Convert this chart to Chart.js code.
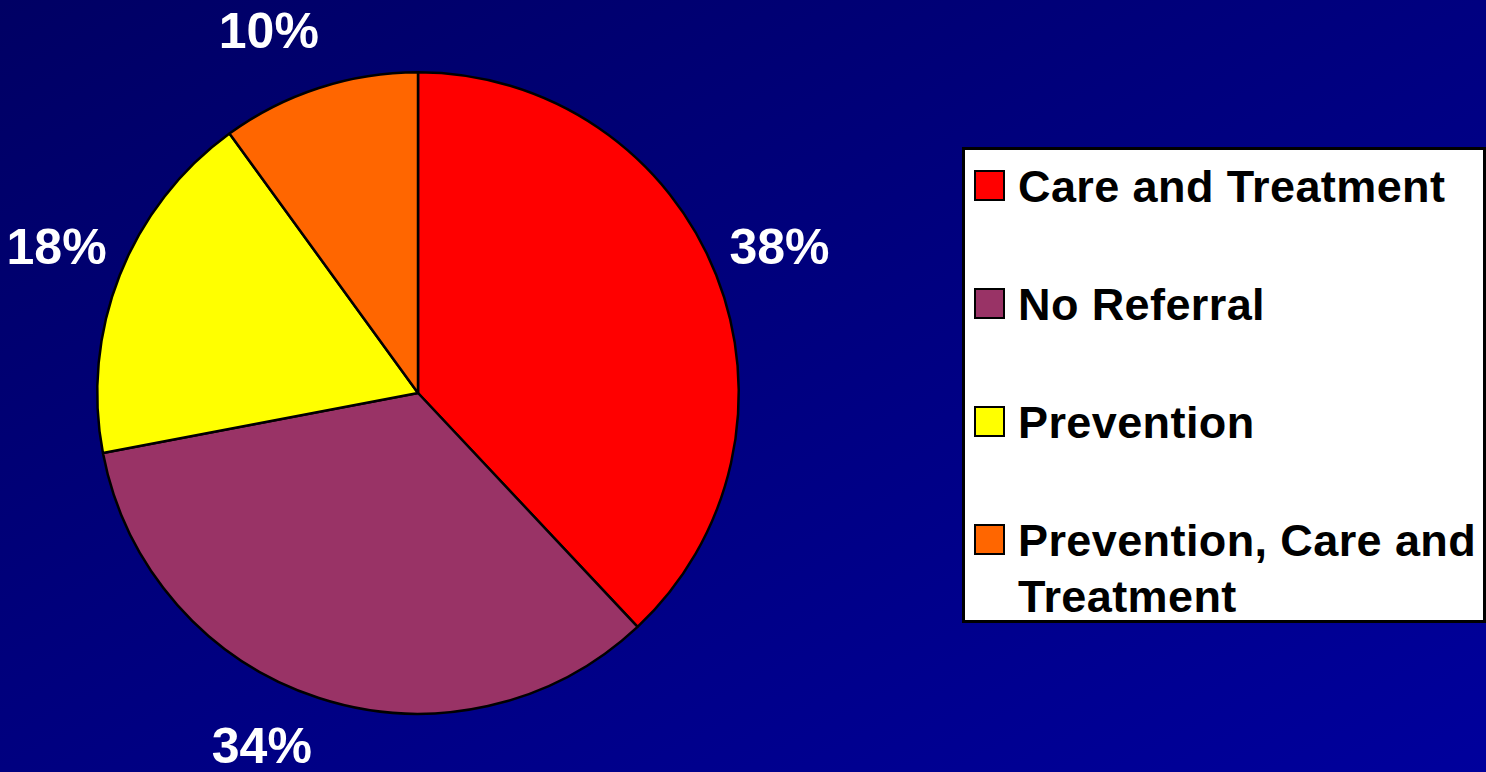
<!DOCTYPE html>
<html>
<head>
<meta charset="utf-8">
<script src="https://cdn.jsdelivr.net/npm/chart.js@4.4.1/dist/chart.umd.min.js"></script>
<style>
  html, body { margin: 0; padding: 0; }
  body {
    width: 1486px; height: 772px; overflow: hidden; position: relative;
    background: linear-gradient(to bottom right, #000064, #00009c);
    font-family: "Liberation Sans", Arial, sans-serif;
  }
  #pie { position: absolute; left: 0; top: 0; }
  #legend {
    position: absolute; left: 962px; top: 147px; width: 524px; height: 476px;
    box-sizing: border-box; background: #fff; border: 3px solid #000;
    padding: 9px 0 0 9px;
  }
  .item { display: flex; align-items: flex-start; margin-bottom: 62px; }
  .swatch {
    width: 31px; height: 31px; box-sizing: border-box; border: 2px solid #000;
    margin: 11px 13px 0 0; flex: none;
  }
  .txt {
    font-weight: bold; font-size: 45px; line-height: 56px; letter-spacing: 0.4px;
    color: #000; width: 466px;
  }
</style>
</head>
<body>
<canvas id="pie" width="1486" height="772"></canvas>
<div id="legend"></div>
<script>
// referral breakdown, percent
const categories = ['Care and Treatment', 'No Referral', 'Prevention', 'Prevention, Care and Treatment'];
const shares = [38, 34, 18, 10];
const sliceColors = ['#ff0000', '#993366', '#ffff00', '#ff6600'];

// percentage labels outside the pie, slid along the circle when they hit the top/bottom edge
const outsideLabels = {
  id: 'outsideLabels',
  afterDatasetsDraw(chart) {
    const ctx = chart.ctx;
    const arcs = chart.getDatasetMeta(0).data;
    ctx.save();
    ctx.fillStyle = '#fff';
    ctx.font = 'bold 50px "Liberation Sans", Arial, sans-serif';
    ctx.textAlign = 'center';
    ctx.textBaseline = 'middle';
    arcs.forEach((arc, i) => {
      const {x, y, startAngle, endAngle, outerRadius} = arc.getProps(['x', 'y', 'startAngle', 'endAngle', 'outerRadius'], true);
      const mid = (startAngle + endAngle) / 2;
      const d = outerRadius + 68;
      let ly = y + Math.sin(mid) * d;
      let lx = x + Math.cos(mid) * d;
      const minY = 34, maxY = 749;
      if (ly < minY || ly > maxY) {
        ly = Math.min(maxY, Math.max(minY, ly));
        const dy = ly - y;
        lx = x + Math.sign(Math.cos(mid)) * Math.sqrt(Math.max(0, d * d - dy * dy));
      }
      ctx.fillText(shares[i] + '%', lx, ly);
    });
    ctx.restore();
  }
};

new Chart(document.getElementById('pie'), {
  type: 'pie',
  data: {
    labels: categories,
    datasets: [{
      data: shares,
      backgroundColor: sliceColors,
      borderColor: '#000',
      borderWidth: 2.5
    }]
  },
  options: {
    responsive: false,
    animation: false,
    layout: { padding: { left: 96, top: 71, right: 746, bottom: 57 } },
    plugins: { legend: { display: false }, tooltip: { enabled: false } }
  },
  plugins: [outsideLabels]
});

// legend box
const legend = document.getElementById('legend');
categories.forEach((name, i) => {
  const item = document.createElement('div');
  item.className = 'item';
  const sw = document.createElement('div');
  sw.className = 'swatch';
  sw.style.background = sliceColors[i];
  const t = document.createElement('div');
  t.className = 'txt';
  t.textContent = name;
  item.appendChild(sw);
  item.appendChild(t);
  legend.appendChild(item);
});
</script>
</body>
</html>
